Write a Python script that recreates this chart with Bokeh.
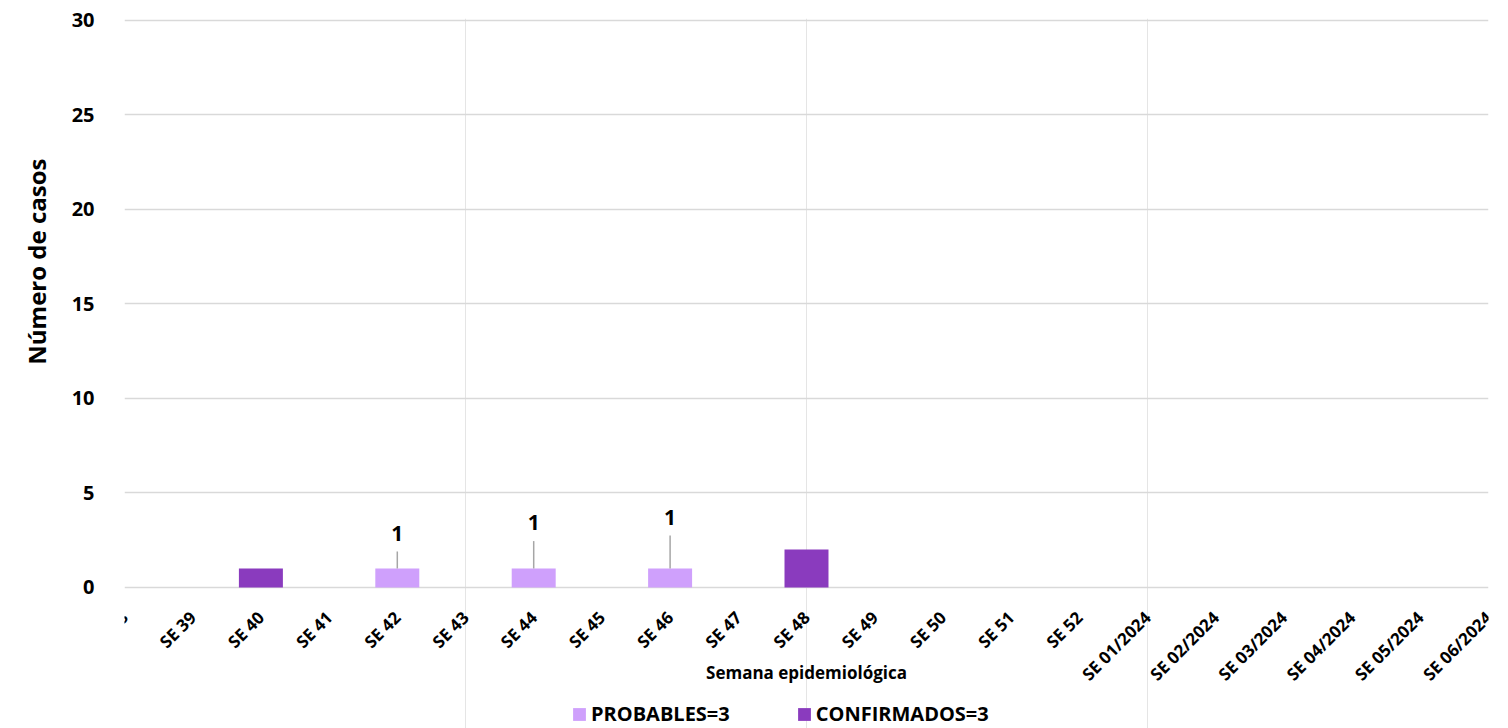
import numpy as np
from bokeh.plotting import figure
from bokeh.models import (ColumnDataSource, FixedTicker, Legend, LegendItem,
                          LabelSet, Label, Title, Range1d)
from bokeh.core.properties import value
from bokeh.embed import file_html
from bokeh.resources import INLINE

weeks = ["SE 38", "SE 39", "SE 40", "SE 41", "SE 42", "SE 43", "SE 44", "SE 45",
         "SE 46", "SE 47", "SE 48", "SE 49", "SE 50", "SE 51", "SE 52",
         "SE 01/2024", "SE 02/2024", "SE 03/2024", "SE 04/2024", "SE 05/2024",
         "SE 06/2024"]
probables = [0, 0, 0, 0, 1, 0, 1, 0, 1, 0, 0, 0, 0, 0, 0, 0, 0, 0, 0, 0, 0]
confirmados = [0, 0, 1, 0, 0, 0, 0, 0, 0, 0, 2, 0, 0, 0, 0, 0, 0, 0, 0, 0, 0]
y_ticks = [0, 5, 10, 15, 20, 25, 30]

# data labels (value shown above the PROBABLES bars, with leader lines)
label_weeks = ["SE 42", "SE 44", "SE 46"]
label_text = ["1", "1", "1"]
label_pos = [2.86, 3.44, 3.70]
leader_top = [1.90, 2.45, 2.75]

FONT = "Open Sans"
C_PROB = "#CFA0FC"
C_CONF = "#8A3BBE"

# layout (pixels)
FRAME_W, FRAME_H = 1364, 710
Y_MAX = 30.1
PX_PER_UNIT = 18.9
Y_MIN = -(FRAME_H - Y_MAX * PX_PER_UNIT) / PX_PER_UNIT   # room below 0 for labels/legend

x = list(range(len(weeks)))
src = ColumnDataSource(dict(x=x, probables=probables, confirmados=confirmados))

p = figure(frame_width=FRAME_W, frame_height=FRAME_H, output_backend="svg",
           toolbar_location=None, x_axis_location=None,
           x_range=Range1d(0, len(weeks) - 1), y_range=Range1d(Y_MIN, Y_MAX),
           min_border_left=124, min_border_right=20, min_border_top=18,
           min_border_bottom=0)
p.outline_line_color = None
p.background_fill_color = "white"

rs = p.vbar_stack(["probables", "confirmados"], x="x", width=0.645, source=src,
                  color=[C_PROB, C_CONF], line_color=None)

# leader lines + labels
lx = [weeks.index(w) for w in label_weeks]
base = [probables[i] for i in lx]
lsrc = ColumnDataSource(dict(x=lx, y0=base, y1=leader_top, ly=label_pos, t=label_text))
p.segment(x0="x", y0="y0", x1="x", y1="y1", source=lsrc, line_color="#A6A6A6",
          line_width=1.5)
p.add_layout(LabelSet(x="x", y="ly", text="t", source=lsrc, text_align="center",
                      text_baseline="middle", text_font=value(FONT),
                      text_font_style="bold", text_font_size="21px",
                      text_color="#000000"))

# category (week) labels, rotated 45 degrees below the baseline
tick_standoff = -27 / PX_PER_UNIT
wsrc = ColumnDataSource(dict(x=x, y=[tick_standoff] * len(weeks), t=weeks))
p.add_layout(LabelSet(x="x", y="y", text="t", source=wsrc, angle=np.pi / 4,
                      text_align="right", text_baseline="middle",
                      text_font=value(FONT), text_font_style="bold",
                      text_font_size="17px", text_color="#000000"))

# x-axis title
p.add_layout(Label(x=(len(weeks) - 1) / 2, y=-85 / PX_PER_UNIT,
                   text="Semana epidemiológica", text_align="center",
                   text_baseline="middle", text_font=FONT, text_font_style="bold",
                   text_font_size="17px", text_color="#000000"))

ya = p.yaxis[0]
ya.ticker = FixedTicker(ticks=y_ticks)
ya.major_label_text_font = FONT
ya.major_label_text_font_style = "bold"
ya.major_label_text_font_size = "20px"
ya.major_label_text_color = "#000000"
ya.major_label_standoff = 24
ya.axis_line_color = None
ya.major_tick_line_color = None
ya.minor_tick_line_color = None

p.ygrid.ticker = FixedTicker(ticks=y_ticks)
p.ygrid.grid_line_color = "#D9D9D9"
p.ygrid.grid_line_width = 1.5

p.add_layout(Title(text="Número de casos", text_font=FONT, text_font_style="bold",
                   text_font_size="24px", text_color="#000000", align="right",
                   offset=140, standoff=32), "left")

legend = Legend(items=[
    LegendItem(label=f"PROBABLES={sum(probables)}", renderers=[rs[0]]),
    LegendItem(label=f"CONFIRMADOS={sum(confirmados)}", renderers=[rs[1]]),
], orientation="horizontal", location=(447, 1), border_line_color=None,
    background_fill_alpha=0,
    label_text_font=FONT, label_text_font_style="bold", label_text_font_size="20px",
    label_text_color="#000000", glyph_width=16, glyph_height=16, spacing=66,
    label_standoff=4, padding=0, margin=0, label_height=16)
p.add_layout(legend)

open("out.html", "w").write(file_html(p, INLINE))
